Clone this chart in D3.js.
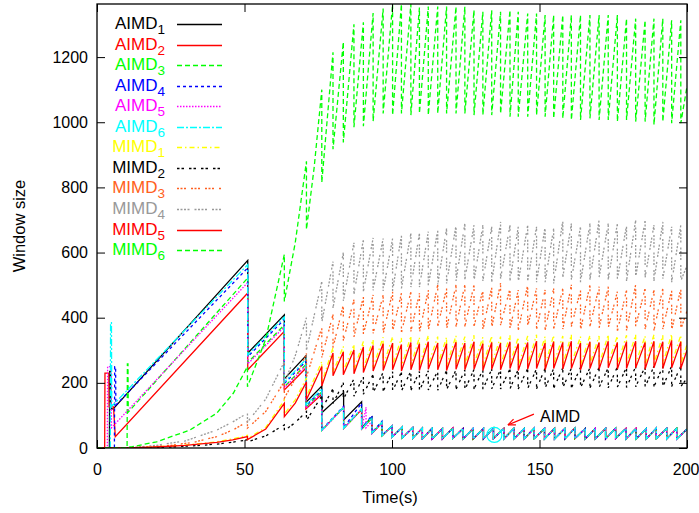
<!DOCTYPE html>
<html><head><meta charset="utf-8">
<script src="https://cdn.jsdelivr.net/npm/d3@7"></script>
<style>body{margin:0;background:#fff}svg{display:block}text{font-family:"Liberation Sans",Arial,sans-serif}</style>
</head><body><svg id="c" width="699" height="513"></svg>
<script>
// ---------- data ----------
const xTicks = [0, 50, 100, 150, 200];
const yTicks = [0, 200, 400, 600, 800, 1000, 1200];
const seriesNames = ["AIMD","AIMD","AIMD","AIMD","AIMD","AIMD","MIMD","MIMD","MIMD","MIMD","MIMD","MIMD"];
const seriesSubs = ["1","2","3","4","5","6","1","2","3","4","5","6"];

// AIMD flows: start-up and convergence phase [time, window]
const aimd1 = [[0,0],[4.2,0],[4.3,235],[4.6,235],[4.7,120],[5.5,120],[51.1,576],[51.1,291],[63.5,409],[63.5,212],[70.8,283],[70.8,140],[76.2,190],[76.2,108],[83.6,170],[83.6,86],[89.7,142],[89.7,62],[93.2,95],[93.2,45],[96.6,78],[96.6,38]];
const aimd2 = [[0,0],[2.6,0],[2.7,230],[4.0,230],[4.1,126],[5.6,126],[6.2,35],[51.1,476],[51.1,240],[63.5,358],[63.5,178],[70.8,245],[70.8,120],[76.2,165],[76.2,55],[83.6,125],[83.6,60],[89.7,118],[89.7,58],[93.2,92],[93.2,46],[96.6,78],[96.6,38]];
const aimd3 = [[0,0],[10.2,0],[10.3,258],[10.5,258],[10.6,110],[51.1,522],[51.1,262],[63.5,378],[63.5,188],[70.8,256],[70.8,125],[76.2,172],[76.2,54],[83.6,124],[83.6,60],[89.7,119],[89.7,58],[93.2,93],[93.2,46],[96.6,79],[96.6,38]];
const aimd4 = [[0,0],[5.9,0],[6.0,250],[6.3,250],[6.4,132],[51.1,553],[51.1,280],[63.5,395],[63.5,198],[70.8,266],[70.8,130],[76.2,178],[76.2,56],[83.6,128],[83.6,62],[89.7,138],[89.7,60],[93.2,100],[93.2,48],[96.6,82],[96.6,39]];
const aimd5 = [[0,0],[3.5,0],[3.6,250],[4.8,250],[4.9,62],[51.1,508],[51.1,258],[63.5,372],[63.5,185],[70.8,252],[70.8,122],[76.2,170],[76.2,53],[83.6,124],[83.6,60],[89.7,120],[89.7,58],[91.2,125],[91.2,62],[93.2,82],[93.2,44],[96.6,78],[96.6,38]];
const aimd6 = [[0,0],[4.5,0],[4.6,385],[4.9,385],[5.0,128],[51.1,563],[51.1,286],[63.5,402],[63.5,202],[70.8,272],[70.8,132],[76.2,182],[76.2,55],[83.6,126],[83.6,61],[89.7,121],[89.7,59],[93.2,94],[93.2,46],[96.6,79],[96.6,38]];
// AIMD steady state (all six flows share it)
const aimdT = [100.0,103.5,107.0,110.3,113.6,117.1,120.6,124.1,127.5,131.0,134.4,137.9,141.3,144.8,148.2,151.7,155.1,158.6,162.0,165.5,168.9,172.4,175.8,179.3,182.7,186.2,189.6,193.1,196.5];
const aimdPeak = [68,64,62,61,60,60,61,60,60,60,61,60,60,60,61,60,60,60,61,60,60,60,61,60,60,60,61,60,60];
const aimdTrough = [33,31,30,29,28,28,29,28,28,28,29,28,28,28,29,28,28,28,29,28,28,28,29,28,28,28,29,28,28];
const aimdEnd = 58;

// MIMD flows: shared loss instants
const mimdLoss = [51.0,63.5,71.0,76.2,80.0,83.5,87.1,90.3,93.6,97.0,100.2,103.2,106.4,109.3,112.3,115.5,118.5,121.7,124.7,127.8,130.8,133.8,136.8,140.0,142.8,146.0,149.0,151.9,154.8,157.9,160.8,163.9,167.1,170.2,173.3,176.4,179.5,182.6,185.8,188.8,191.8,194.8,197.9];

const mimd1Early = [[0,0],[10,0],[20,4],[30,9],[40.6,19],[46,28]];
const mimd1Mid = [[57.2,63],[67.2,148]];
const mimd1Peak = [39,147,215,265,308,312,318,327,333,340,342,338,344,340,346,342,340,345,342,346,340,344,342,346,340,344,348,342,346,344,348,342,346,344,348,344,346,348,344,348,346,350,346];
const mimd1Trough = [29,104,158,200,232,236,240,244,248,252,254,250,254,252,256,254,252,256,254,256,252,256,254,258,252,256,258,254,258,256,258,254,258,256,260,256,258,260,256,260,258,260,258];
const mimd1End = 318;

const mimd2Early = [[0,0],[14,0],[25,3],[35,8],[40.6,12],[46,18]];
const mimd2Mid = [[57.2,37],[67.2,78]];
const mimd2Peak = [25,71,112,160,182,200,212,220,226,232,234,233,236,235,237,236,238,240,239,241,240,242,241,243,242,244,243,245,244,246,245,247,246,248,247,249,248,250,249,251,250,252,251];
const mimd2Trough = [19,53,84,120,137,150,159,165,170,174,176,175,177,176,178,177,179,180,179,181,180,182,181,182,181,183,182,184,183,185,184,185,184,186,185,187,186,188,187,188,187,189,188];
const mimd2End = 215;

const mimd3Early = [[0,0],[12,0],[25,8],[33,18],[40.6,35],[46,55]];
const mimd3Mid = [[57.2,112],[67.2,212]];
const mimd3Peak = [81,204,290,370,410,440,455,465,470,469,480,475,480,475,485,501,490,501,501,501,485,495,506,490,485,501,490,485,490,490,501,485,501,495,495,480,485,501,490,485,490,485,490];
const mimd3Trough = [61,153,218,278,308,330,341,349,352,350,358,354,358,354,361,373,365,373,373,373,361,369,377,365,361,373,365,361,365,365,373,361,373,369,369,358,361,373,365,361,365,361,365];
const mimd3End = 420;

const mimd4Early = [[0,0],[10,0],[20,8],[30,22],[40.6,55],[46,80]];
const mimd4Mid = [[57.2,150],[67.2,283]];
const mimd4Peak = [107,265,400,511,572,600,630,640,645,643,643,654,659,659,664,669,674,684,689,684,684,679,694,684,679,684,679,679,674,699,689,679,689,699,689,689,684,699,699,684,694,679,684];
const mimd4Trough = [80,200,300,385,430,452,472,480,484,482,482,490,494,494,498,502,505,513,517,513,513,509,520,513,509,513,509,509,505,524,517,509,517,524,517,517,513,524,524,513,520,509,513];
const mimd4End = 560;

const mimd5Early = [[0,0],[10,0],[20,3],[30,8],[40.6,17],[46,25]];
const mimd5Mid = [[57.2,58],[67.2,138]];
const mimd5Peak = [35,137,203,250,292,295,301,310,315,320,322,318,324,320,326,322,320,325,322,326,320,324,322,326,320,324,328,322,326,324,328,322,326,324,328,324,326,328,324,328,326,330,326];
const mimd5Trough = [26,96,148,190,222,225,228,232,236,238,240,236,240,238,242,240,238,242,240,242,238,242,240,244,238,242,244,240,244,242,244,240,244,242,246,242,244,246,242,246,244,246,244];
const mimd5End = 300;

const mimd6Early = [[0,0],[9,0],[12,4],[20.2,19],[31.5,55],[40.6,107],[46.2,168]];
const mimd6Mid = [[57.2,334],[67.2,630],[73.6,860]];
const mimd6Peak = [250,594,880,1100,1215,1246,1301,1307,1335,1349,1363,1363,1363,1352,1355,1355,1355,1355,1355,1344,1339,1344,1339,1344,1339,1334,1334,1329,1329,1329,1329,1329,1329,1329,1329,1329,1318,1318,1313,1318,1318,1313,1313];
const mimd6Trough = [188,450,671,815,917,938,985,988,1003,1027,1022,1027,1022,1027,1022,1027,1027,1027,1027,1022,1022,1022,1027,1017,1017,1017,1022,1017,1012,1012,1007,1007,1012,1007,1007,1002,1007,1002,1002,992,1002,997,997];
const mimd6End = 1110;

// annotation (data units)
const noteText = "AIMD";
const notePos = [150.2, 80];
const arrowFrom = [148.1, 104];
const arrowTo = [139.3, 71];
const circlePos = [134.7, 40];

// ---------- build ----------
function buildAIMD(early){
  const p = early.slice();
  aimdT.forEach((t,i)=>{ p.push([t,aimdPeak[i]]); p.push([t,aimdTrough[i]]); });
  p.push([200,aimdEnd]);
  return p;
}
function buildMIMD(early, mids, peaks, troughs, endV){
  const p = early.slice(); let m = 0;
  mimdLoss.forEach((t,i)=>{
    while (m < mids.length && mids[m][0] < t) p.push(mids[m++]);
    p.push([t,peaks[i]]); p.push([t,troughs[i]]);
  });
  p.push([200,endV]);
  return p;
}
const seriesData = [
  buildAIMD(aimd1), buildAIMD(aimd2), buildAIMD(aimd3), buildAIMD(aimd4), buildAIMD(aimd5), buildAIMD(aimd6),
  buildMIMD(mimd1Early,mimd1Mid,mimd1Peak,mimd1Trough,mimd1End),
  buildMIMD(mimd2Early,mimd2Mid,mimd2Peak,mimd2Trough,mimd2End),
  buildMIMD(mimd3Early,mimd3Mid,mimd3Peak,mimd3Trough,mimd3End),
  buildMIMD(mimd4Early,mimd4Mid,mimd4Peak,mimd4Trough,mimd4End),
  buildMIMD(mimd5Early,mimd5Mid,mimd5Peak,mimd5Trough,mimd5End),
  buildMIMD(mimd6Early,mimd6Mid,mimd6Peak,mimd6Trough,mimd6End)
];
const colors = ["#000000","#ff0000","#00ff00","#0000ff","#ff00ff","#00ffff","#ffff00","#000000","#ff6020","#999999","#ff0000","#00ff00"];
const dashes = ["none","none","5,3","3,3","1.5,1.5","7,2,2,2","5,3,1.5,3","2.5,2,2.5,5","2,1.5,2,1.5,2,5","2,1.5,2,1.5,2,1.5,2,5","none","5,3"];

const svg = d3.select("#c");
const L = 97, R = 687, T = 4, B = 448;
const x = d3.scaleLinear().domain([0,200]).range([L,R]);
const y = d3.scaleLinear().domain([0,1363]).range([B,T]);

svg.append("defs").append("clipPath").attr("id","clip")
  .append("rect").attr("x",L).attr("y",T).attr("width",R-L).attr("height",B-T);

const line = d3.line().x(d=>x(d[0])).y(d=>y(d[1]));
const g = svg.append("g").attr("clip-path","url(#clip)");
seriesData.forEach((d,i)=>{
  g.append("path").attr("d",line(d)).attr("fill","none")
    .attr("stroke",colors[i]).attr("stroke-width",1.3)
    .attr("stroke-dasharray",dashes[i]);
});

// axes
const fs = 16;
svg.append("g").attr("class","xa").attr("transform",`translate(0,${B})`)
  .call(d3.axisBottom(x).tickValues(xTicks).tickFormat(d3.format("d")).tickSizeInner(-8).tickSizeOuter(0).tickPadding(16));
svg.append("g").attr("transform",`translate(${L},0)`)
  .call(d3.axisLeft(y).tickValues(yTicks).tickFormat(d3.format("d")).tickSizeInner(-8).tickSizeOuter(0).tickPadding(9));
svg.append("g").attr("transform",`translate(0,${T})`)
  .call(d3.axisTop(x).tickValues(xTicks).tickSizeInner(-8).tickSizeOuter(0).tickFormat(""));
svg.append("g").attr("transform",`translate(${R},0)`)
  .call(d3.axisRight(y).tickValues(yTicks).tickSizeInner(-8).tickSizeOuter(0).tickFormat(""));
svg.selectAll(".domain").remove();
svg.selectAll(".tick line").attr("stroke","#000").attr("stroke-width",1);
svg.selectAll(".tick text").attr("font-size",fs).attr("fill","#000")
  .attr("font-family","'Liberation Sans',Arial,sans-serif");
// keep the last x label inside the picture
svg.selectAll(".xa .tick text").filter(d=>d===200).attr("text-anchor","end").attr("dx",12);
svg.append("rect").attr("x",L).attr("y",T).attr("width",R-L).attr("height",B-T)
  .attr("fill","none").attr("stroke","#000").attr("stroke-width",1.3);

svg.append("text").attr("x",(L+R)/2-2).attr("y",503).attr("text-anchor","middle")
  .attr("font-size",16.5).text("Time(s)");
svg.append("text").attr("transform","translate(25,226) rotate(-90)").attr("text-anchor","middle")
  .attr("font-size",16.5).text("Window size");

// legend
seriesNames.forEach((n,i)=>{
  const ly = Math.round(24 + i*20.55) + 0.5;
  const t = svg.append("text").attr("x",165).attr("y",ly+4).attr("text-anchor","end")
    .attr("font-size",17).attr("fill",colors[i]);
  t.append("tspan").text(n);
  t.append("tspan").attr("dy",5).attr("font-size",13.5).text(seriesSubs[i]);
  svg.append("line").attr("x1",177).attr("x2",222).attr("y1",ly).attr("y2",ly)
    .attr("stroke",colors[i]).attr("stroke-width",1.4).attr("stroke-dasharray",dashes[i]);
});

// annotation
svg.append("circle").attr("cx",x(circlePos[0])).attr("cy",y(circlePos[1])).attr("r",7.5)
  .attr("fill","none").attr("stroke","#00ffff").attr("stroke-width",1.2);
const ax1 = x(arrowFrom[0]), ay1 = y(arrowFrom[1]), ax2 = x(arrowTo[0]), ay2 = y(arrowTo[1]);
svg.append("line").attr("x1",ax1).attr("y1",ay1).attr("x2",ax2).attr("y2",ay2)
  .attr("stroke","#ff0000").attr("stroke-width",1.2);
const ang = Math.atan2(ay2-ay1, ax2-ax1), hl = 8;
[0.4,-0.4].forEach(a=>{
  svg.append("line").attr("x1",ax2).attr("y1",ay2)
    .attr("x2",ax2 - hl*Math.cos(ang+a)).attr("y2",ay2 - hl*Math.sin(ang+a))
    .attr("stroke","#ff0000").attr("stroke-width",1.2);
});
svg.append("text").attr("x",x(notePos[0])).attr("y",y(notePos[1])).attr("font-size",16).text(noteText);
</script></body></html>
